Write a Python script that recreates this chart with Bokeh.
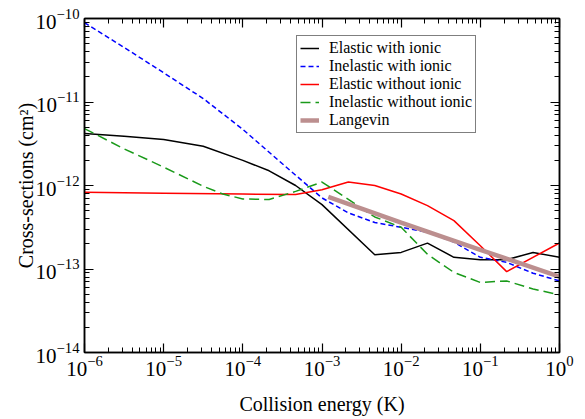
from bokeh.plotting import figure
from bokeh.models import LogAxis, Legend, LegendItem, Range1d, LogTicker
from bokeh.embed import file_html
from bokeh.resources import INLINE

# Elastic with ionic
e_el_ion = [1e-6, 3.16e-6, 1e-5, 3.16e-5, 1e-4, 2.15e-4, 4.64e-4, 1e-3, 4.64e-3, 1e-2,
            2.15e-2, 4.64e-2, 1e-1, 2.15e-1, 4.64e-1, 1.0]
s_el_ion = [4.2e-12, 3.9e-12, 3.55e-12, 2.95e-12, 2.0e-12, 1.5e-12, 1.0e-12, 5.9e-13, 1.48e-13, 1.58e-13,
            2.04e-13, 1.38e-13, 1.29e-13, 1.29e-13, 1.58e-13, 1.38e-13]

# Inelastic with ionic
e_in_ion = [1e-6, 3.16e-6, 1e-5, 3.16e-5, 1e-4, 3.16e-4, 1e-3, 2.15e-3, 4.64e-3, 1e-2,
            2.15e-2, 4.64e-2, 1e-1, 2.15e-1, 4.64e-1, 1.0]
s_in_ion = [8.9e-11, 4.5e-11, 2.24e-11, 1.1e-11, 4.7e-12, 1.82e-12, 7.1e-13, 4.7e-13, 3.6e-13, 3.16e-13,
            2.75e-13, 2.1e-13, 1.38e-13, 1.2e-13, 8.9e-14, 7.2e-14]

# Elastic without ionic
e_el_no = [1e-6, 1e-5, 1e-4, 4.64e-4, 1e-3, 2.15e-3, 4.64e-3, 1e-2, 2.15e-2, 4.64e-2, 1e-1, 2.15e-1, 1.0]
s_el_no = [8.3e-13, 8.1e-13, 7.9e-13, 7.8e-13, 8.9e-13, 1.1e-12, 1.0e-12, 7.9e-13, 5.75e-13, 3.8e-13,
           1.9e-13, 9.3e-14, 2.05e-13]

# Inelastic without ionic
e_in_no = [1e-6, 3.16e-6, 1e-5, 3.16e-5, 5.6e-5, 1e-4, 2.15e-4, 4.64e-4, 1e-3, 4.64e-3, 1e-2,
           2.15e-2, 4.64e-2, 1e-1, 2.15e-1, 4.64e-1, 1.0]
s_in_no = [4.8e-12, 2.75e-12, 1.66e-12, 9.8e-13, 7.9e-13, 6.9e-13, 6.8e-13, 8.5e-13, 1.1e-12, 4.2e-13,
           3.16e-13, 1.5e-13, 9.1e-14, 6.9e-14, 7.2e-14, 5.75e-14, 4.9e-14]

# Langevin
e_lang = [1.2e-3, 1e-2, 1e-1, 1.0]
s_lang = [7.3e-13, 3.6e-13, 1.7e-13, 8.1e-14]

FONT = "'Liberation Serif', 'Times New Roman', serif"

p = figure(width=585, height=419, x_axis_type="log", y_axis_type="log",
           x_range=Range1d(1e-6, 1.0), y_range=Range1d(1e-14, 1e-10),
           output_backend="svg", toolbar_location=None,
           min_border_left=84, min_border_right=26, min_border_top=18, min_border_bottom=67)
p.grid.visible = False
p.outline_line_color = "black"
p.outline_line_width = 1.5
p.background_fill_color = "white"
p.border_fill_color = "white"

def style_axis(ax, labels=True):
    ax.axis_line_color = "black"
    ax.axis_line_width = 1.5
    ax.major_tick_in = 9
    ax.major_tick_out = 0
    ax.minor_tick_in = 5
    ax.minor_tick_out = 0
    ax.major_tick_line_color = "black"
    ax.minor_tick_line_color = "black"
    ax.major_tick_line_width = 1.2
    ax.minor_tick_line_width = 1.0
    ax.major_label_text_font = FONT
    ax.major_label_text_color = "black"
    if labels:
        ax.major_label_text_font_size = "21px"
    else:
        ax.major_label_text_font_size = "1px"
        ax.major_label_text_alpha = 0
    ax.axis_label_text_font = FONT
    ax.axis_label_text_font_style = "normal"
    ax.axis_label_text_font_size = "20px"
    ax.axis_label_text_color = "black"

for ax in p.xaxis:
    style_axis(ax)
    ax.axis_label = "Collision energy (K)"
    ax.major_label_standoff = 3
    ax.axis_label_standoff = 14
for ax in p.yaxis:
    style_axis(ax)
    ax.axis_label = "Cross-sections (cm²)"
    ax.major_label_standoff = 5
    ax.axis_label_standoff = -4

top = LogAxis(ticker=LogTicker(num_minor_ticks=10))
style_axis(top, labels=False)
top.major_label_standoff = 0
p.add_layout(top, "above")
right = LogAxis(ticker=LogTicker(num_minor_ticks=10))
style_axis(right, labels=False)
right.major_label_standoff = 0
p.add_layout(right, "right")

r1 = p.line(e_el_ion, s_el_ion, line_color="black", line_width=1.5)
r2 = p.line(e_in_ion, s_in_ion, line_color="#0000ff", line_width=1.5, line_dash="5 3")
r3 = p.line(e_el_no, s_el_no, line_color="#ff0000", line_width=1.5)
r4 = p.line(e_in_no, s_in_no, line_color="#1a9a1a", line_width=1.5, line_dash="10 5")
r5 = p.line(e_lang, s_lang, line_color="#bc8f8f", line_width=4.5)

legend = Legend(items=[
    LegendItem(label="Elastic with ionic", renderers=[r1]),
    LegendItem(label="Inelastic with ionic", renderers=[r2]),
    LegendItem(label="Elastic without ionic", renderers=[r3]),
    LegendItem(label="Inelastic without ionic", renderers=[r4]),
    LegendItem(label="Langevin", renderers=[r5]),
], location=(212, 219))
legend.border_line_color = "black"
legend.border_line_width = 1
legend.background_fill_color = "white"
legend.background_fill_alpha = 1
legend.label_text_font = FONT
legend.label_text_font_size = "16px"
legend.label_text_color = "black"
legend.glyph_width = 19
legend.glyph_height = 12
legend.label_height = 12
legend.label_standoff = 10
legend.spacing = -5
legend.padding = 3
legend.margin = 0
p.add_layout(legend)

open("out.html", "w").write(file_html(p, INLINE))
